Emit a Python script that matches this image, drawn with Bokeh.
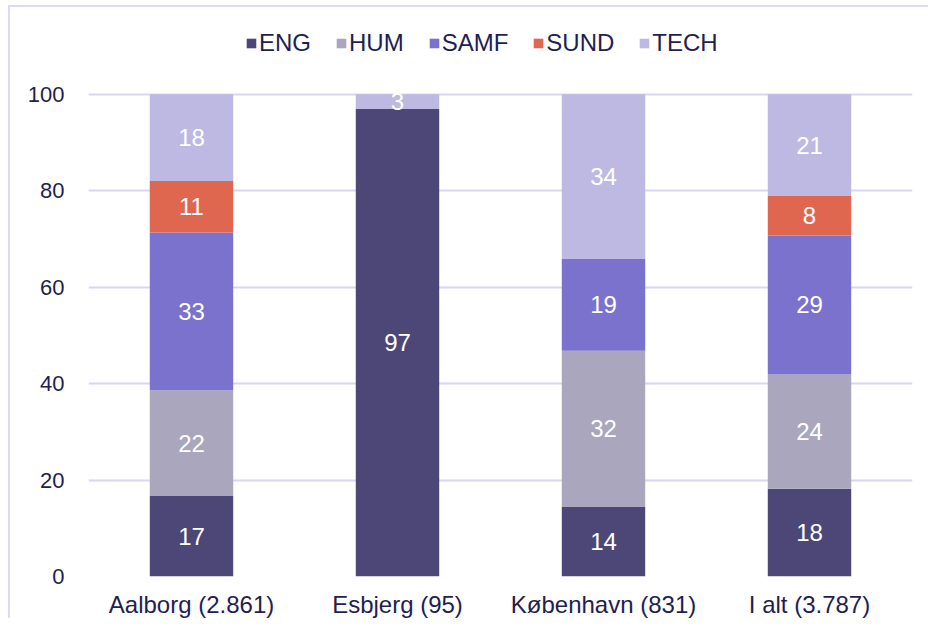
from bokeh.plotting import figure
from bokeh.models import ColumnDataSource, Legend, LegendItem, Range1d, FactorRange, FixedTicker
from bokeh.core.properties import value
from bokeh.embed import file_html
from bokeh.resources import INLINE

# ---- data (percent of intake per campus) ----
campuses = ["Aalborg (2.861)", "Esbjerg (95)", "København (831)", "I alt (3.787)"]
faculties = ["ENG", "HUM", "SAMF", "SUND", "TECH"]
ENG = [16.7, 96.9, 14.4, 18.2]
HUM = [21.9, 0.0, 32.4, 23.7]
SAMF = [32.7, 0.0, 19.0, 28.8]
SUND = [10.7, 0.0, 0.0, 8.2]
TECH = [18.0, 3.1, 34.2, 21.1]
y_ticks = [0, 20, 40, 60, 80, 100]

colors = ["#4D4777", "#A9A6BD", "#7A72CD", "#E0674F", "#BDB9E2"]
TEXT = "#221E50"
GRID = "#D9D6F3"
FONT = "Liberation Sans"

series = {"ENG": ENG, "HUM": HUM, "SAMF": SAMF, "SUND": SUND, "TECH": TECH}
src = ColumnDataSource(dict(campus=campuses, **series))

# y range extends above 100 to leave room for the legend inside the frame
p = figure(x_range=FactorRange(factors=campuses, range_padding=0),
           y_range=Range1d(0, 116.3),
           width=920, height=613, output_backend="svg", toolbar_location=None,
           min_border_left=78, min_border_right=18, min_border_top=8,
           min_border_bottom=42)
p.styles = {"margin-left": "8px", "margin-top": "5px",
            "border-left": "2px solid #DCD9F3", "border-top": "2px solid #DCD9F3",
            "border-right": "none", "border-bottom": "none"}

p.outline_line_color = None
p.xgrid.grid_line_color = None
p.ygrid.grid_line_color = GRID
p.ygrid.grid_line_width = 2
p.yaxis.ticker = FixedTicker(ticks=y_ticks)

for ax in (p.xaxis[0], p.yaxis[0]):
    ax.axis_line_color = None
    ax.major_tick_line_color = None
    ax.minor_tick_line_color = None
    ax.major_label_text_font = FONT
    ax.major_label_text_color = TEXT
p.yaxis.major_label_text_font_size = "22px"
p.xaxis.major_label_text_font_size = "24px"
p.yaxis.major_label_standoff = 18
p.xaxis.major_label_standoff = 8

rends = p.vbar_stack(faculties, x="campus", width=0.405, source=src,
                     color=colors, line_color=None)

# data labels at segment centres
lx, ly, lt = [], [], []
for i, c in enumerate(campuses):
    base = 0.0
    for f in faculties:
        v = series[f][i]
        if v > 0:
            lx.append(c)
            ly.append(base + v / 2)
            lt.append(str(int(round(v))))
        base += v
p.text(x=lx, y=ly, text=lt, text_align="center", text_baseline="middle",
       text_color="white", text_font=value(FONT), text_font_size="24px")

legend = Legend(items=[LegendItem(label=f, renderers=[r]) for f, r in zip(faculties, rends)],
                orientation="horizontal", location=(157, 519),
                glyph_width=12, glyph_height=12, label_standoff=2, spacing=24,
                padding=0, margin=0, border_line_color=None, background_fill_alpha=0,
                label_text_font=FONT, label_text_font_size="24px",
                label_text_color=TEXT)
p.add_layout(legend, "center")

open("out.html", "w").write(file_html(p, INLINE))
